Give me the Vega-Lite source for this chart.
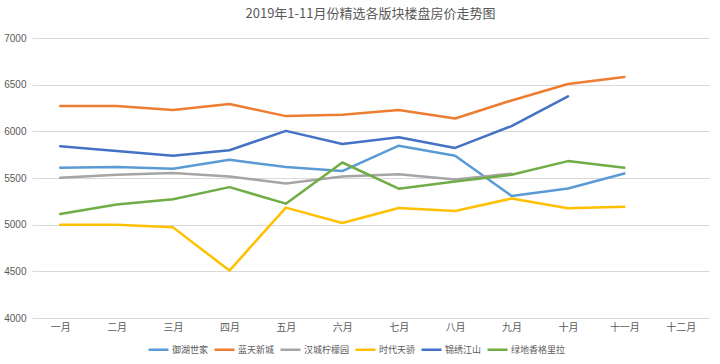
{
  "$schema": "https://vega.github.io/schema/vega-lite/v6.json",
  "autosize": "none",
  "width": 677,
  "height": 280,
  "padding": {"left": 32, "top": 38, "right": 11, "bottom": 46},
  "background": "white",
  "title": {
    "text": "2019年1-11月份精选各版块楼盘房价走势图",
    "font": "Noto Sans CJK SC",
    "fontSize": 13,
    "fontWeight": "normal",
    "color": "#595959",
    "anchor": "middle",
    "frame": "group",
    "offset": 12
  },
  "data": {
    "values": [
      {"month": "一月", "series": "御湖世家", "value": 5609},
      {"month": "二月", "series": "御湖世家", "value": 5617},
      {"month": "三月", "series": "御湖世家", "value": 5599},
      {"month": "四月", "series": "御湖世家", "value": 5696},
      {"month": "五月", "series": "御湖世家", "value": 5617},
      {"month": "六月", "series": "御湖世家", "value": 5574},
      {"month": "七月", "series": "御湖世家", "value": 5846},
      {"month": "八月", "series": "御湖世家", "value": 5739},
      {"month": "九月", "series": "御湖世家", "value": 5308},
      {"month": "十月", "series": "御湖世家", "value": 5388},
      {"month": "十一月", "series": "御湖世家", "value": 5549},
      {"month": "一月", "series": "蓝天新城", "value": 6271},
      {"month": "二月", "series": "蓝天新城", "value": 6271},
      {"month": "三月", "series": "蓝天新城", "value": 6228},
      {"month": "四月", "series": "蓝天新城", "value": 6292},
      {"month": "五月", "series": "蓝天新城", "value": 6163},
      {"month": "六月", "series": "蓝天新城", "value": 6177},
      {"month": "七月", "series": "蓝天新城", "value": 6228},
      {"month": "八月", "series": "蓝天新城", "value": 6137},
      {"month": "九月", "series": "蓝天新城", "value": 6331},
      {"month": "十月", "series": "蓝天新城", "value": 6507},
      {"month": "十一月", "series": "蓝天新城", "value": 6583},
      {"month": "一月", "series": "汉城柠檬园", "value": 5502},
      {"month": "二月", "series": "汉城柠檬园", "value": 5535},
      {"month": "三月", "series": "汉城柠檬园", "value": 5553},
      {"month": "四月", "series": "汉城柠檬园", "value": 5517},
      {"month": "五月", "series": "汉城柠檬园", "value": 5442},
      {"month": "六月", "series": "汉城柠檬园", "value": 5517},
      {"month": "七月", "series": "汉城柠檬园", "value": 5539},
      {"month": "八月", "series": "汉城柠檬园", "value": 5485},
      {"month": "九月", "series": "汉城柠檬园", "value": 5546},
      {"month": "一月", "series": "时代天骄", "value": 5000},
      {"month": "二月", "series": "时代天骄", "value": 5000},
      {"month": "三月", "series": "时代天骄", "value": 4971},
      {"month": "四月", "series": "时代天骄", "value": 4508},
      {"month": "五月", "series": "时代天骄", "value": 5183},
      {"month": "六月", "series": "时代天骄", "value": 5017},
      {"month": "七月", "series": "时代天骄", "value": 5179},
      {"month": "八月", "series": "时代天骄", "value": 5147},
      {"month": "九月", "series": "时代天骄", "value": 5280},
      {"month": "十月", "series": "时代天骄", "value": 5175},
      {"month": "十一月", "series": "时代天骄", "value": 5193},
      {"month": "一月", "series": "锦绣江山", "value": 5840},
      {"month": "二月", "series": "锦绣江山", "value": 5789},
      {"month": "三月", "series": "锦绣江山", "value": 5739},
      {"month": "四月", "series": "锦绣江山", "value": 5797},
      {"month": "五月", "series": "锦绣江山", "value": 6005},
      {"month": "六月", "series": "锦绣江山", "value": 5865},
      {"month": "七月", "series": "锦绣江山", "value": 5937},
      {"month": "八月", "series": "锦绣江山", "value": 5822},
      {"month": "九月", "series": "锦绣江山", "value": 6056},
      {"month": "十月", "series": "锦绣江山", "value": 6374},
      {"month": "一月", "series": "绿地香格里拉", "value": 5115},
      {"month": "二月", "series": "绿地香格里拉", "value": 5215},
      {"month": "三月", "series": "绿地香格里拉", "value": 5273},
      {"month": "四月", "series": "绿地香格里拉", "value": 5402},
      {"month": "五月", "series": "绿地香格里拉", "value": 5225},
      {"month": "六月", "series": "绿地香格里拉", "value": 5666},
      {"month": "七月", "series": "绿地香格里拉", "value": 5385},
      {"month": "八月", "series": "绿地香格里拉", "value": 5463},
      {"month": "九月", "series": "绿地香格里拉", "value": 5535},
      {"month": "十月", "series": "绿地香格里拉", "value": 5681},
      {"month": "十一月", "series": "绿地香格里拉", "value": 5610}
    ]
  },
  "mark": {"type": "line", "strokeWidth": 2.5, "strokeCap": "round", "strokeJoin": "round"},
  "encoding": {
    "x": {
      "field": "month",
      "type": "ordinal",
      "scale": {"domain": ["一月","二月","三月","四月","五月","六月","七月","八月","九月","十月","十一月","十二月"], "padding": 0.5},
      "axis": {
        "title": null,
        "labelAngle": 0,
        "labelFont": "Noto Sans CJK SC",
        "labelFontSize": 10,
        "labelColor": "#595959",
        "labelPadding": 4,
        "ticks": false,
        "grid": false,
        "domainColor": "#D9D9D9",
        "domainWidth": 1
      }
    },
    "y": {
      "field": "value",
      "type": "quantitative",
      "scale": {"domain": [4000, 7000], "nice": false, "zero": false},
      "axis": {
        "title": null,
        "values": [4000, 4500, 5000, 5500, 6000, 6500, 7000],
        "format": "d",
        "labelFont": "Liberation Sans",
        "labelFontSize": 10,
        "labelColor": "#595959",
        "labelPadding": 6,
        "ticks": false,
        "domain": false,
        "grid": true,
        "gridColor": "#D9D9D9",
        "gridWidth": 1
      }
    },
    "color": {
      "field": "series",
      "type": "nominal",
      "scale": {
        "domain": ["御湖世家", "蓝天新城", "汉城柠檬园", "时代天骄", "锦绣江山", "绿地香格里拉"],
        "range": ["#5B9BD5", "#ED7D31", "#A5A5A5", "#FFC000", "#4472C4", "#70AD47"]
      },
      "legend": {
        "title": null,
        "orient": "none",
        "direction": "horizontal",
        "legendX": 115,
        "legendY": 300,
        "symbolType": "stroke",
        "symbolSize": 400,
        "symbolStrokeWidth": 2.5,
        "labelFont": "Noto Sans CJK SC",
        "labelFontSize": 9,
        "labelColor": "#595959",
        "columnPadding": 0,
        "labelOffset": 2
      }
    }
  },
  "config": {
    "view": {"stroke": null}
  }
}
